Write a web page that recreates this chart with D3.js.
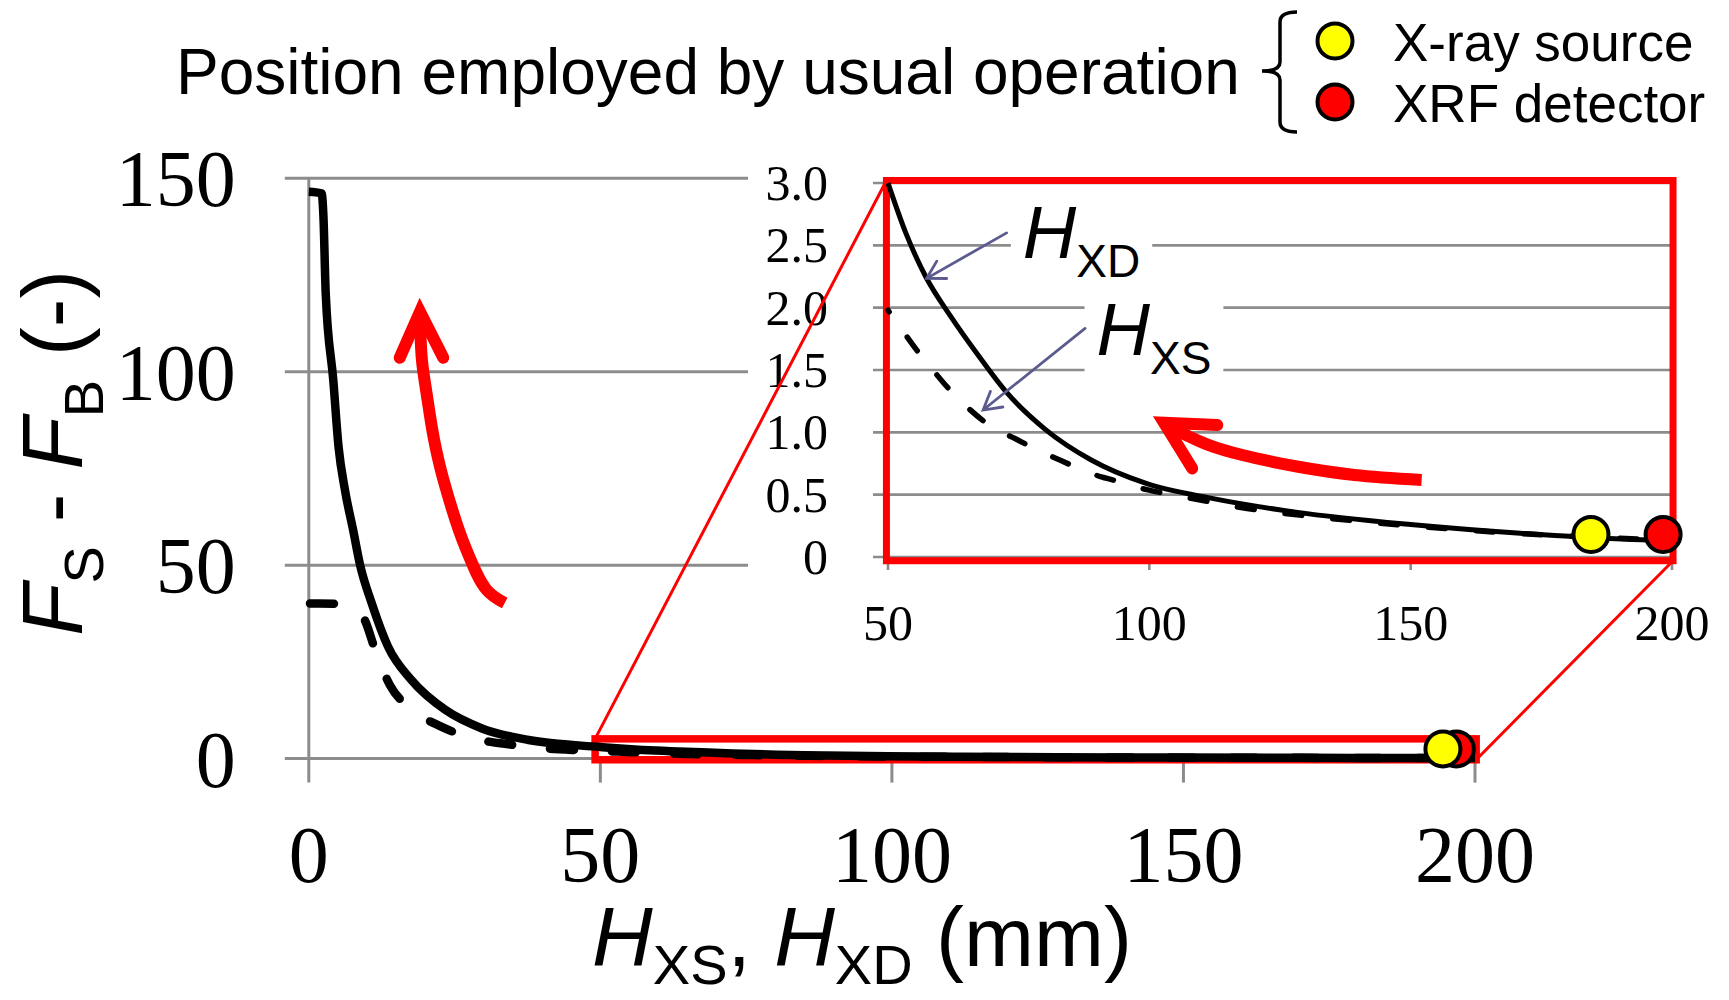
<!DOCTYPE html>
<html>
<head>
<meta charset="utf-8">
<script src="https://cdn.jsdelivr.net/npm/d3@7"></script>
<style>
  html, body { margin: 0; padding: 0; background: #fff; }
  svg { display: block; }
  .sans { font-family: "Liberation Sans", Arial, sans-serif; }
  .serif { font-family: "Liberation Serif", "Times New Roman", serif; }
</style>
</head>
<body>
<svg id="chart" width="1729" height="1000"></svg>
<script>
// Values: distance H (mm) against F_S - F_B (-)
var hxd = [0, 2.2, 2.5, 2.9, 4.2, 5.1, 6.2, 7.6, 8.8, 10.8, 13.6, 17.6, 23.4, 29.7, 37.7,
           50, 53.4, 57.2, 62, 67.4, 72.7, 80.2, 88.8, 99.4, 112, 128, 150, 171, 192.5, 200];
var fxd = [146.5, 146.1, 140.5, 120.3, 97.8, 80.6, 69.4, 59.1, 50, 40.1, 28.9, 20.3, 12.6, 7.8, 4.8,
           3.0, 2.6, 2.25, 1.93, 1.61, 1.32, 1.02, 0.78, 0.59, 0.47, 0.36, 0.26, 0.19, 0.14, 0.13];

var hxs = [0.2, 5.5, 7.5, 9.6, 11.4, 13.9, 17.4, 22.8, 28.2, 34.2, 40, 46,
           50, 52.9, 55.5, 58.2, 61.4, 64.7, 70, 74.3, 78, 82.2, 86, 91, 94.7, 99.5, 103,
           108, 112, 117, 121, 130, 150, 170, 185, 200];
var fxs = [40.1, 40, 39.2, 35.8, 28, 19, 13, 8.2, 5.2, 3.7, 2.7, 2.2,
           1.98, 1.81, 1.66, 1.52, 1.36, 1.22, 1.04, 0.95, 0.87, 0.79, 0.72, 0.64, 0.6, 0.54, 0.51,
           0.47, 0.44, 0.4, 0.375, 0.33, 0.25, 0.19, 0.16, 0.13];

var mainXTicks = [0, 50, 100, 150, 200];
var mainYTicks = [0, 50, 100, 150];
var insetXTicks = [50, 100, 150, 200];
var insetYTicks = [0, 0.5, 1, 1.5, 2, 2.5, 3];

// Usual operating positions
var markerNames = ["X-ray source", "XRF detector"];
var markerColors = ["#ffff00", "#ff0000"];
var mainMarkerH = [194.5, 196.8], mainMarkerF = [2.5, 2.5];
var insetMarkerH = [184.5, 198.3], insetMarkerF = [0.18, 0.18];

// Zoom window (data extents) in both charts
var mainBoxH = [49.1, 200.2], mainBoxF = [-0.3, 5.1];
var insetBoxH = [49.7, 200.2], insetBoxF = [-0.03, 3.02];

// Big red "direction" arrows, in each chart's own units
var mainArrowH = [33.6, 30.5, 26.8, 23.1, 21.5, 20.2, 19.4, 19.07];
var mainArrowF = [40.2, 43.6, 54.8, 72.0, 82.3, 94.4, 103.0, 113.9];
var mainHeadH = [15.6, 19.07, 23.06], mainHeadF = [103.6, 115.5, 103.6];
var insetArrowH = [152.1, 139.25, 128.5, 117.8, 111.4, 104.5];
var insetArrowF = [0.618, 0.658, 0.724, 0.818, 0.898, 1.03];
var insetHeadH = [108.2, 102.8, 113.0], insetHeadF = [0.711, 1.077, 1.059];

// Curve labels with pointers (inset units)
var labelSubs = ["XD", "XS"];
var labelH = [75.8, 89.9], labelF = [2.40, 1.62];
var pointerFromH = [72.7, 87.7], pointerFromF = [2.60, 1.834];
var pointerToH = [57.4, 68.2], pointerToF = [2.235, 1.179];

var svg = d3.select("#chart");
var GRID = "#8c8c8c", RED = "#ff0000", POINTER = "#5b5b90";

var x = d3.scaleLinear().domain([0, 200]).range([308.8, 1475]);
var y = d3.scaleLinear().domain([0, 150]).range([758.6, 178.2]);
var xi = d3.scaleLinear().domain([50, 200]).range([888, 1672]);
var yi = d3.scaleLinear().domain([0, 3]).range([557, 183]);

function pairs(a, b) { return a.map(function (v, i) { return [v, b[i]]; }); }

// ---- main chart frame ----
var main = svg.append("g");
main.selectAll("line.grid").data(mainYTicks).join("line")
    .attr("x1", x(0) - 24).attr("x2", x(200))
    .attr("y1", function (d) { return y(d); }).attr("y2", function (d) { return y(d); })
    .attr("stroke", GRID).attr("stroke-width", 3);
main.append("line")
    .attr("x1", x(0)).attr("x2", x(0)).attr("y1", y(150)).attr("y2", y(0) + 24)
    .attr("stroke", GRID).attr("stroke-width", 3);
main.selectAll("line.tick").data(mainXTicks.slice(1)).join("line")
    .attr("x1", function (d) { return x(d); }).attr("x2", function (d) { return x(d); })
    .attr("y1", y(0)).attr("y2", y(0) + 24)
    .attr("stroke", GRID).attr("stroke-width", 3);

main.selectAll("text.ylab").data(mainYTicks).join("text")
    .attr("class", "serif").attr("font-size", 80).attr("text-anchor", "end")
    .attr("x", x(0) - 73).attr("y", function (d) { return y(d) + 28; })
    .text(function (d) { return d; });
main.selectAll("text.xlab").data(mainXTicks).join("text")
    .attr("class", "serif").attr("font-size", 80).attr("text-anchor", "middle")
    .attr("x", function (d) { return x(d); }).attr("y", y(0) + 123)
    .text(function (d) { return d; });

// ---- inset frame (white backdrop hides the main grid) ----
var inset = svg.append("g");
inset.append("rect")
    .attr("x", xi(50) - 140).attr("y", yi(3) - 35)
    .attr("width", 1729 - (xi(50) - 140)).attr("height", yi(0) + 93 - (yi(3) - 35))
    .attr("fill", "#fff");
inset.selectAll("line.grid").data(insetYTicks).join("line")
    .attr("x1", xi(50) - 15).attr("x2", xi(200))
    .attr("y1", function (d) { return yi(d); }).attr("y2", function (d) { return yi(d); })
    .attr("stroke", GRID).attr("stroke-width", 2.6);
inset.selectAll("line.tick").data(insetXTicks).join("line")
    .attr("x1", function (d) { return xi(d); }).attr("x2", function (d) { return xi(d); })
    .attr("y1", yi(0)).attr("y2", yi(0) + 13)
    .attr("stroke", GRID).attr("stroke-width", 2.6);
inset.selectAll("text.ylab").data(insetYTicks).join("text")
    .attr("class", "serif").attr("font-size", 50).attr("text-anchor", "end")
    .attr("x", xi(50) - 60).attr("y", function (d) { return yi(d) + 17; })
    .text(function (d) { return d === 0 ? "0" : d3.format(".1f")(d); });
inset.selectAll("text.xlab").data(insetXTicks).join("text")
    .attr("class", "serif").attr("font-size", 50).attr("text-anchor", "middle")
    .attr("x", function (d) { return xi(d); }).attr("y", yi(0) + 83)
    .text(function (d) { return d; });

// curve labels, each on a white patch that breaks the grid
labelSubs.forEach(function (sub, i) {
    var g = inset.append("g");
    var t = g.append("text").attr("class", "sans")
        .attr("x", xi(labelH[i])).attr("y", yi(labelF[i]));
    t.append("tspan").attr("font-size", 74).attr("font-style", "italic").text("H");
    t.append("tspan").attr("font-size", 46).attr("dy", 19).text(sub);
    var bb = t.node().getBBox();
    g.insert("rect", "text")
        .attr("x", bb.x - 12).attr("y", bb.y).attr("width", bb.width + 24).attr("height", bb.height)
        .attr("fill", "#fff");
});

// ---- zoom boxes ----
function box(sx, sy, hs, fs, w) {
    svg.append("rect")
        .attr("x", sx(hs[0])).attr("y", sy(fs[1]))
        .attr("width", sx(hs[1]) - sx(hs[0])).attr("height", sy(fs[0]) - sy(fs[1]))
        .attr("fill", "none").attr("stroke", RED).attr("stroke-width", w);
}
box(x, y, mainBoxH, mainBoxF, 7.5);
box(xi, yi, insetBoxH, insetBoxF, 7);

// ---- curves ----
function curve(sx, sy, hs, fs, w, dash, offset) {
    var line = d3.line()
        .x(function (d) { return sx(d[0]); })
        .y(function (d) { return sy(d[1]); })
        .curve(d3.curveMonotoneX);
    var p = svg.append("path").datum(pairs(hs, fs))
        .attr("d", line).attr("fill", "none")
        .attr("stroke", "#000").attr("stroke-width", w);
    if (dash) p.attr("stroke-dasharray", dash).attr("stroke-dashoffset", offset)
        .attr("stroke-linecap", "round");
}
function fromH(hs, fs, lo) {
    var h = [], f = [];
    hs.forEach(function (v, i) { if (v >= lo) { h.push(v); f.push(fs[i]); } });
    return [h, f];
}
curve(x, y, hxd, fxd, 8.5);
curve(x, y, hxs, fxs, 8.5, "24,38", 0);
var ixd = fromH(hxd, fxd, 50), ixs = fromH(hxs, fxs, 50);
curve(xi, yi, ixd[0], ixd[1], 5);
curve(xi, yi, ixs[0], ixs[1], 5.5, "17,31", 15);

// ---- operating-position markers ----
function markers(sx, sy, hs, fs) {
    svg.append("g").selectAll("circle").data(d3.range(hs.length).reverse()).join("circle")
        .attr("cx", function (i) { return sx(hs[i]); })
        .attr("cy", function (i) { return sy(fs[i]); })
        .attr("r", 17.5)
        .attr("fill", function (i) { return markerColors[i]; })
        .attr("stroke", "#000").attr("stroke-width", 4);
}
markers(x, y, mainMarkerH, mainMarkerF);
markers(xi, yi, insetMarkerH, insetMarkerF);

// ---- red direction arrows ----
function redArrow(sx, sy, hs, fs, headH, headF) {
    var shaft = d3.line()
        .x(function (d) { return sx(d[0]); }).y(function (d) { return sy(d[1]); })
        .curve(d3.curveCatmullRom);
    svg.append("path").datum(pairs(hs, fs)).attr("d", shaft)
        .attr("fill", "none").attr("stroke", RED).attr("stroke-width", 12);
    svg.append("path").datum(pairs(headH, headF)).attr("d", d3.line()
            .x(function (d) { return sx(d[0]); }).y(function (d) { return sy(d[1]); }))
        .attr("fill", "none").attr("stroke", RED).attr("stroke-width", 12)
        .attr("stroke-linecap", "round").attr("stroke-linejoin", "miter");
}
redArrow(x, y, mainArrowH, mainArrowF, mainHeadH, mainHeadF);
redArrow(xi, yi, insetArrowH, insetArrowF, insetHeadH, insetHeadF);

// ---- thin pointers from labels to curves ----
labelSubs.forEach(function (sub, i) {
    var x1 = xi(pointerFromH[i]), y1 = yi(pointerFromF[i]);
    var x2 = xi(pointerToH[i]), y2 = yi(pointerToF[i]);
    var a = Math.atan2(y1 - y2, x1 - x2), len = 20, spread = Math.PI / 6;
    var path = "M" + x1 + "," + y1 + "L" + x2 + "," + y2 +
        "M" + (x2 + len * Math.cos(a - spread)) + "," + (y2 + len * Math.sin(a - spread)) +
        "L" + x2 + "," + y2 +
        "L" + (x2 + len * Math.cos(a + spread)) + "," + (y2 + len * Math.sin(a + spread));
    svg.append("path").attr("d", path).attr("fill", "none")
        .attr("stroke", POINTER).attr("stroke-width", 2.8).attr("stroke-linecap", "round");
});

// ---- connectors between zoom box and inset ----
svg.append("line")
    .attr("x1", x(mainBoxH[0])).attr("y1", y(mainBoxF[1]))
    .attr("x2", xi(insetBoxH[0])).attr("y2", yi(insetBoxF[1]))
    .attr("stroke", RED).attr("stroke-width", 3);
svg.append("line")
    .attr("x1", x(mainBoxH[1])).attr("y1", y(mainBoxF[0]))
    .attr("x2", xi(insetBoxH[1])).attr("y2", yi(insetBoxF[0]))
    .attr("stroke", RED).attr("stroke-width", 3);

// ---- axis titles ----
var xt = svg.append("text").attr("class", "sans").attr("font-size", 84)
    .attr("text-anchor", "middle").attr("x", 862).attr("y", 966);
xt.append("tspan").attr("font-style", "italic").text("H");
xt.append("tspan").attr("font-size", 56).attr("dy", 18).text("XS");
xt.append("tspan").attr("dy", -18).text(", ");
xt.append("tspan").attr("font-style", "italic").text("H");
xt.append("tspan").attr("font-size", 56).attr("dy", 18).text("XD");
xt.append("tspan").attr("dy", -18).text(" (mm)");

var yt = svg.append("text").attr("class", "sans").attr("font-size", 86)
    .attr("text-anchor", "middle").attr("transform", "translate(82,453) rotate(-90)");
yt.append("tspan").attr("font-style", "italic").text("F");
yt.append("tspan").attr("font-size", 56).attr("dy", 21).text("S");
yt.append("tspan").attr("dy", -21).text(" - ");
yt.append("tspan").attr("font-style", "italic").text("F");
yt.append("tspan").attr("font-size", 56).attr("dy", 21).text("B");
yt.append("tspan").attr("dy", -21).text(" (-)");

// ---- title and legend ----
svg.append("text").attr("class", "sans").attr("font-size", 64)
    .attr("x", 176).attr("y", 94).text("Position employed by usual operation");

svg.append("path")
    .attr("d", "M1297,12 Q1280,12 1280,22 L1280,62 Q1280,71 1262,71 Q1280,71 1280,80 L1280,122 Q1280,132 1297,132")
    .attr("fill", "none").attr("stroke", "#000").attr("stroke-width", 3.5);

var legend = svg.append("g").selectAll("g").data(markerNames).join("g")
    .attr("transform", function (d, i) { return "translate(1335," + (41 + i * 61) + ")"; });
legend.append("circle").attr("r", 17.5)
    .attr("fill", function (d, i) { return markerColors[i]; })
    .attr("stroke", "#000").attr("stroke-width", 4);
legend.append("text").attr("class", "sans").attr("font-size", 53)
    .attr("x", 58).attr("y", 20).text(function (d) { return d; });
</script>
</body>
</html>
